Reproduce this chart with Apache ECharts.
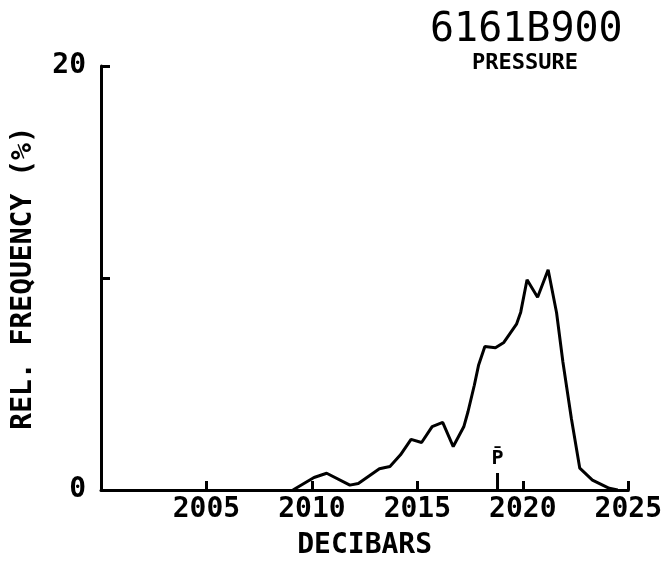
<!DOCTYPE html>
<html>
<head>
<meta charset="utf-8">
<script src="https://cdn.jsdelivr.net/npm/echarts@6/dist/echarts.min.js"></script>
<style>
  html, body { margin: 0; padding: 0; background: #fff; }
  #chart { width: 665px; height: 565px; }
</style>
</head>
<body>
<div id="chart"></div>
<script>
// pressure (decibars) and relative frequency (%)
var pressure = [2009.1, 2010.1, 2010.7, 2011.8, 2012.2, 2013.2, 2013.7, 2014.2, 2014.7, 2015.2,
                2015.7, 2016.2, 2016.7, 2017.2, 2017.4, 2017.7, 2017.9, 2018.2, 2018.7, 2019.1,
                2019.7, 2019.9, 2020.2, 2020.7, 2021.2, 2021.6, 2021.9, 2022.3, 2022.7, 2023.3,
                2024.1, 2024.5];
var freq = [0, 0.59, 0.79, 0.23, 0.31, 1.0, 1.11, 1.66, 2.39, 2.24,
            2.99, 3.19, 2.05, 2.98, 3.69, 4.94, 5.88, 6.77, 6.71, 6.96,
            7.82, 8.39, 9.92, 9.09, 10.39, 8.36, 6.04, 3.38, 1.03, 0.47,
            0.08, 0];
var pBar = 2018.8;        // mean pressure marker
var pBarTick = [0, 0.8];  // marker stub

var font = 'DejaVu Sans Mono';

var lineData = [];
for (var i = 0; i < pressure.length; i++) {
  lineData.push([pressure[i], freq[i]]);
}

var chart = echarts.init(document.getElementById('chart'));
chart.setOption({
  animation: false,
  backgroundColor: '#fff',
  title: [
    {
      text: '6161B900',
      left: 425, top: 6,
      textStyle: { fontFamily: font, fontSize: 40, fontWeight: 'normal', color: '#000' }
    },
    {
      text: 'PRESSURE',
      left: 467, top: 47,
      textStyle: { fontFamily: font, fontSize: 22, fontWeight: 'bold', color: '#000' }
    }
  ],
  grid: { left: 101, right: 33, top: 66, bottom: 73 },
  xAxis: {
    type: 'value',
    min: 2000, max: 2025, interval: 5,
    name: 'DECIBARS',
    nameLocation: 'middle',
    nameGap: 42,
    nameTextStyle: { fontFamily: font, fontSize: 28, fontWeight: 'bold', color: '#000' },
    axisLine: { lineStyle: { color: '#000', width: 3 } },
    axisTick: { inside: true, length: 9, lineStyle: { color: '#000', width: 3 } },
    splitLine: { show: false },
    axisLabel: {
      margin: 6,
      fontFamily: font, fontSize: 28, fontWeight: 'bold', color: '#000',
      formatter: function (v) { return v === 2000 ? '' : v; }
    }
  },
  yAxis: {
    type: 'value',
    min: 0, max: 20, interval: 10,
    name: 'REL. FREQUENCY (%)',
    nameLocation: 'middle',
    nameGap: 63,
    nameTextStyle: { fontFamily: font, fontSize: 28, fontWeight: 'bold', color: '#000' },
    axisLine: { show: true, lineStyle: { color: '#000', width: 3 } },
    axisTick: { show: true, inside: true, length: 9, lineStyle: { color: '#000', width: 3 } },
    splitLine: { show: false },
    axisLabel: {
      margin: 15,
      fontFamily: font, fontSize: 28, fontWeight: 'bold', color: '#000',
      formatter: function (v) { return v === 10 ? '' : v; }
    }
  },
  series: [
    {
      type: 'line',
      data: lineData,
      showSymbol: false,
      lineStyle: { color: '#000', width: 3 },
      silent: true
    },
    {
      type: 'line',
      data: [
        [pBar, pBarTick[0]],
        { value: [pBar, pBarTick[1]],
          label: { show: true, position: 'top', distance: 4, formatter: 'P\u0304',
                   fontFamily: font, fontSize: 20, fontWeight: 'bold', color: '#000' } }
      ],
      symbol: 'circle',
      symbolSize: 0,
      showSymbol: true,
      lineStyle: { color: '#000', width: 3 },
      silent: true
    }
  ]
});
</script>
</body>
</html>
